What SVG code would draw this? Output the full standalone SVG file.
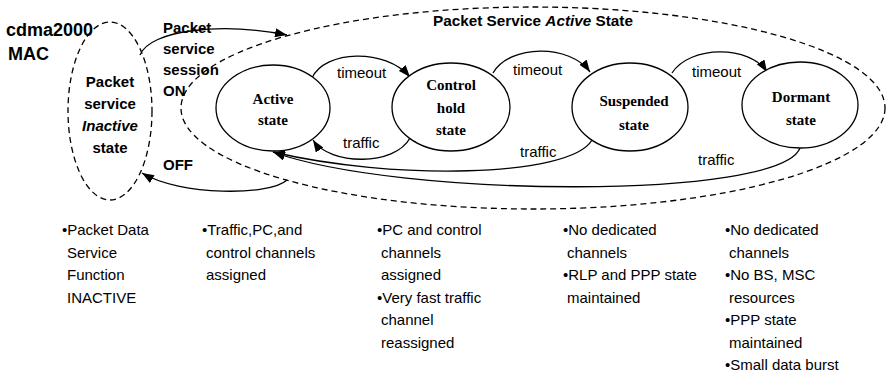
<svg xmlns="http://www.w3.org/2000/svg" width="886" height="373" viewBox="0 0 886 373">
  <style>
    .bg { fill: #fff; }
    .region { fill: none; stroke: #000; stroke-width: 1.3; stroke-dasharray: 6 4; }
    .state { fill: #fff; stroke: #000; stroke-width: 1.3; }
    .conn { fill: none; stroke: #000; stroke-width: 1.3; marker-end: url(#arrow); }
    .sans { font-family: "Liberation Sans", Arial, sans-serif; font-size: 15px; fill: #000; }
    .bold { font-weight: bold; }
    .serif { font-family: "Liberation Serif", "Times New Roman", serif; font-weight: bold; font-size: 15px; fill: #000; }
    .mid { text-anchor: middle; }
  </style>
  <defs>
    <marker id="arrow" markerUnits="userSpaceOnUse" markerWidth="13" markerHeight="9" refX="12" refY="4.5" orient="auto">
      <path d="M0,0 L12,4.5 L0,9 z" fill="#000"/>
    </marker>
  </defs>

  <rect class="bg" x="0" y="0" width="886" height="373"/>

  <!-- MAC layer caption -->
  <g id="mac-caption">
    <text class="sans bold" x="6" y="36" font-size="18" style="font-size:18px">cdma2000</text>
    <text class="sans bold" x="8" y="60" style="font-size:18px">MAC</text>
  </g>

  <!-- inactive region -->
  <g id="inactive">
    <ellipse class="region" cx="110" cy="111" rx="42" ry="89"/>
    <text class="sans bold mid" x="110" y="87">Packet</text>
    <text class="sans bold mid" x="110" y="109">service</text>
    <text class="sans bold mid" x="110" y="131" font-style="italic">Inactive</text>
    <text class="sans bold mid" x="110" y="153">state</text>
  </g>

  <!-- active region boundary -->
  <g id="active-region">
    <ellipse class="region" cx="533" cy="108" rx="352" ry="101"/>
    <text class="sans bold" x="433" y="26" textLength="200" lengthAdjust="spacingAndGlyphs">Packet Service <tspan font-style="italic">Active</tspan> State</text>
  </g>

  <!-- transitions -->
  <g id="connectors">
    <path id="on" class="conn" d="M140,55 C150,30 220,22 287,35"/>
    <path id="off" class="conn" d="M287,180 C270,196 180,196 142,173"/>
    <path id="t1" class="conn" d="M312,78 C325,50 385,48 410,77"/>
    <path id="r1" class="conn" d="M410,138 C395,166 330,166 313,140"/>
    <path id="t2" class="conn" d="M493,73 C510,44 570,44 590,72"/>
    <path id="r2" class="conn" d="M592,140 C570,178 390,180 273,152"/>
    <path id="t3" class="conn" d="M672,73 C690,45 750,45 767,72"/>
    <path id="r3" class="conn" d="M800,148 C780,200 400,198 273,152"/>
  </g>

  <!-- transition labels -->
  <g id="labels">
    <text class="sans bold" x="163" y="33">Packet</text>
    <text class="sans bold" x="163" y="54">service</text>
    <text class="sans bold" x="163" y="75">session</text>
    <text class="sans bold" x="163" y="96">ON</text>
    <text class="sans bold" x="163" y="170">OFF</text>
    <text class="sans" x="337" y="78">timeout</text>
    <text class="sans" x="513" y="75">timeout</text>
    <text class="sans" x="692" y="77">timeout</text>
    <text class="sans" x="343" y="148">traffic</text>
    <text class="sans" x="520" y="157">traffic</text>
    <text class="sans" x="698" y="165">traffic</text>
  </g>

  <!-- states -->
  <g id="active">
    <ellipse class="state" cx="273" cy="108" rx="57" ry="43"/>
    <text class="serif mid" x="273" y="104">Active</text>
    <text class="serif mid" x="273" y="125">state</text>
  </g>
  <g id="control-hold">
    <ellipse class="state" cx="451" cy="107" rx="59" ry="44"/>
    <text class="serif mid" x="451" y="90">Control</text>
    <text class="serif mid" x="451" y="113">hold</text>
    <text class="serif mid" x="451" y="135">state</text>
  </g>
  <g id="suspended">
    <ellipse class="state" cx="630" cy="107" rx="58" ry="44"/>
    <text class="serif mid" x="634" y="106">Suspended</text>
    <text class="serif mid" x="634" y="130">state</text>
  </g>
  <g id="dormant">
    <ellipse class="state" cx="800" cy="105" rx="58" ry="43"/>
    <text class="serif mid" x="801" y="102">Dormant</text>
    <text class="serif mid" x="801" y="125">state</text>
  </g>

  <!-- per-state notes -->
  <g id="notes" class="sans">
    <text x="62" y="235">•Packet Data</text>
    <text x="67" y="257.5">Service</text>
    <text x="67" y="280">Function</text>
    <text x="67" y="302.5">INACTIVE</text>

    <text x="202" y="235">•Traffic,PC,and</text>
    <text x="206" y="257.5">control channels</text>
    <text x="206" y="280">assigned</text>

    <text x="377" y="235">•PC and control</text>
    <text x="381" y="257.5">channels</text>
    <text x="381" y="280">assigned</text>
    <text x="377" y="302.5">•Very fast traffic</text>
    <text x="381" y="325">channel</text>
    <text x="381" y="347.5">reassigned</text>

    <text x="563" y="235">•No dedicated</text>
    <text x="567" y="257.5">channels</text>
    <text x="563" y="280">•RLP and PPP state</text>
    <text x="567" y="302.5">maintained</text>

    <text x="725" y="235">•No dedicated</text>
    <text x="729" y="257.5">channels</text>
    <text x="725" y="280">•No BS, MSC</text>
    <text x="729" y="302.5">resources</text>
    <text x="725" y="325">•PPP state</text>
    <text x="729" y="347.5">maintained</text>
    <text x="725" y="370">•Small data burst</text>
  </g>
</svg>
